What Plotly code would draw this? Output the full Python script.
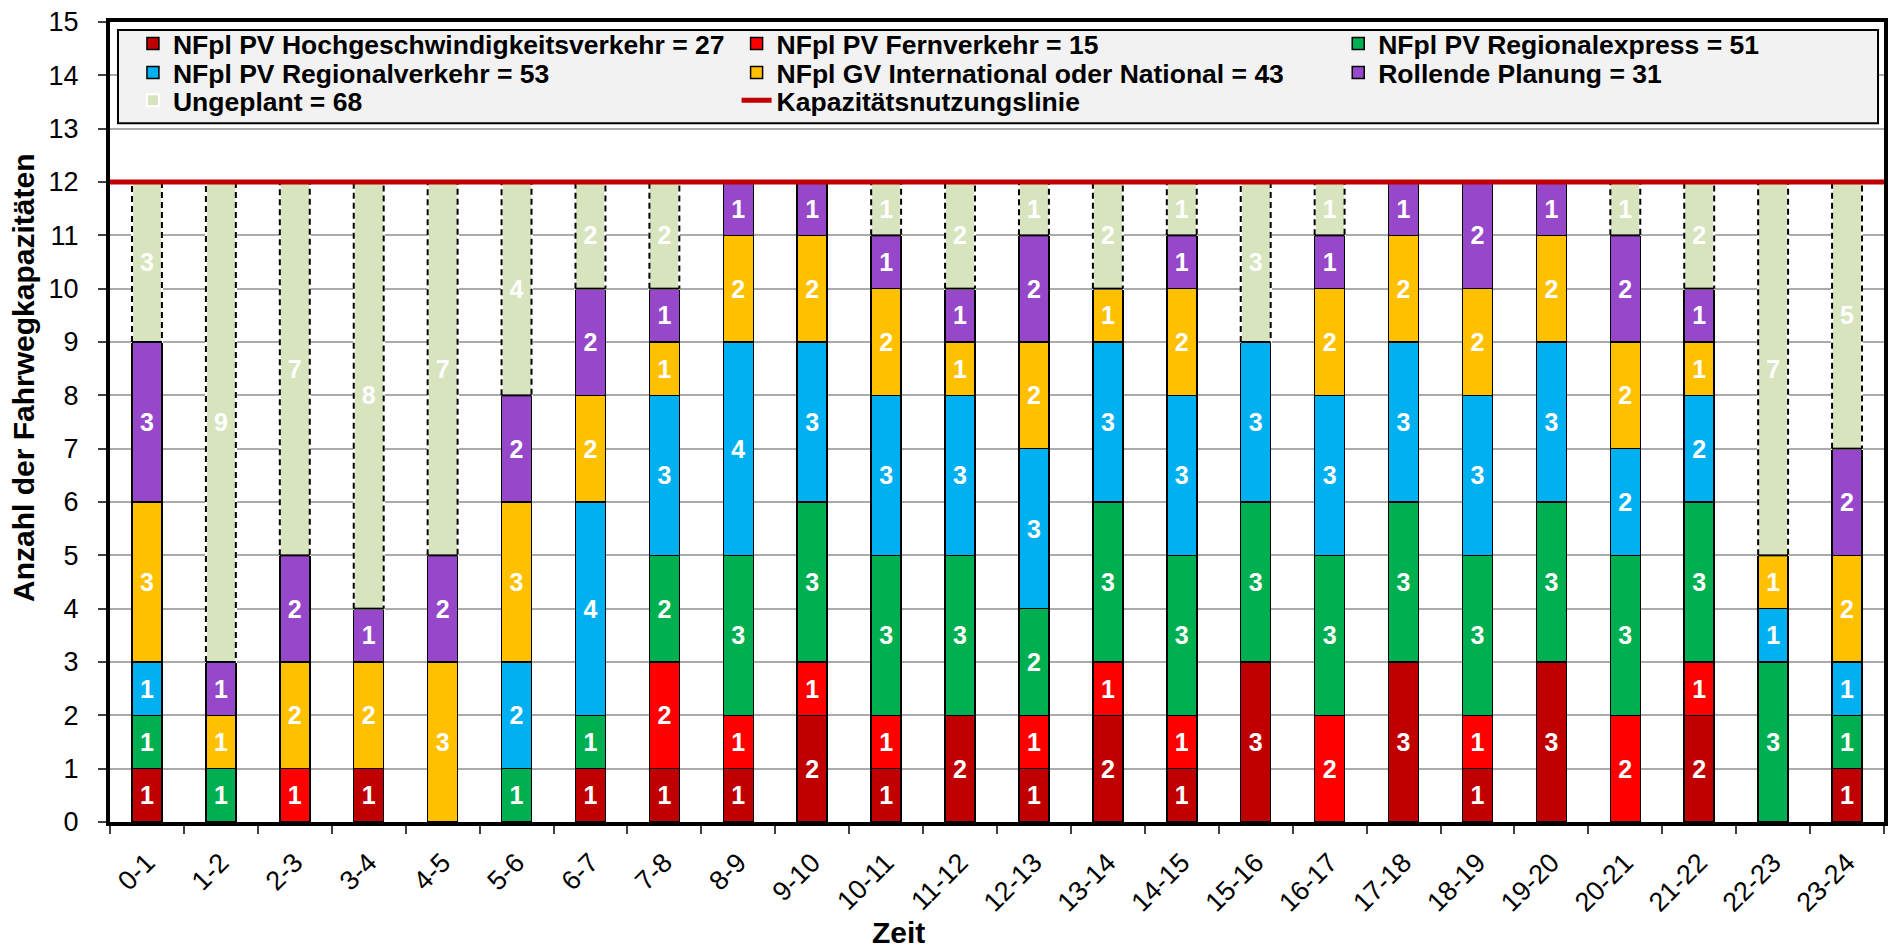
import plotly.graph_objects as go

# ---------------- data ----------------
categories = ["0-1", "1-2", "2-3", "3-4", "4-5", "5-6", "6-7", "7-8", "8-9", "9-10",
              "10-11", "11-12", "12-13", "13-14", "14-15", "15-16", "16-17", "17-18",
              "18-19", "19-20", "20-21", "21-22", "22-23", "23-24"]
hgv = [1, 0, 0, 1, 0, 0, 1, 1, 1, 2, 1, 2, 1, 2, 1, 3, 0, 3, 1, 3, 0, 2, 0, 1]
fv = [0, 0, 1, 0, 0, 0, 0, 2, 1, 1, 1, 0, 1, 1, 1, 0, 2, 0, 1, 0, 2, 1, 0, 0]
rex = [1, 1, 0, 0, 0, 1, 1, 2, 3, 3, 3, 3, 2, 3, 3, 3, 3, 3, 3, 3, 3, 3, 3, 1]
rv = [1, 0, 0, 0, 0, 2, 4, 3, 4, 3, 3, 3, 3, 3, 3, 3, 3, 3, 3, 3, 2, 2, 1, 1]
gv = [3, 1, 2, 2, 3, 3, 2, 1, 2, 2, 2, 1, 2, 1, 2, 0, 2, 2, 2, 2, 2, 1, 1, 2]
rp = [3, 1, 2, 1, 2, 2, 2, 1, 1, 1, 1, 1, 2, 0, 1, 0, 1, 1, 2, 1, 2, 1, 0, 2]
ung = [3, 9, 7, 8, 7, 4, 2, 2, 0, 0, 1, 2, 1, 2, 1, 3, 1, 0, 0, 0, 1, 2, 7, 5]
capacity = 12
y_ticks = list(range(0, 16))

series = [
    ("NFpl PV Hochgeschwindigkeitsverkehr", hgv, "#C00000"),
    ("NFpl PV Fernverkehr", fv, "#FF0000"),
    ("NFpl PV Regionalexpress", rex, "#00B050"),
    ("NFpl PV Regionalverkehr", rv, "#00B0F0"),
    ("NFpl GV International oder National", gv, "#FFC000"),
    ("Rollende Planung", rp, "#9747C9"),
]
ung_name = "Ungeplant"
ung_color = "#D7E4BD"
cap_name = "Kapazitätsnutzungslinie"

FONT = "Liberation Sans, Arial, sans-serif"
n = len(categories)
xs = list(range(n))
BAR_W = 0.405

# ---------------- geometry helpers ----------------
L, R, T, B = 110, 7, 17, 127
W, H = 1895, 949
pw, ph = W - L - R, H - T - B


def px_x(px):
    return (px - L) / pw


def px_y(py):
    return (H - B - py) / ph


# legend grid: 3 columns x 3 rows, one legend per entry (row-wise order)
leg_cols = [133, 738, 1341]
leg_rows = [39, 68, 96]
leg_ids = ["legend"] + [f"legend{k}" for k in range(2, 9)]

fig = go.Figure()

for k, (name, vals, color) in enumerate(series):
    fig.add_trace(go.Bar(
        x=xs, y=[v if v else None for v in vals], width=BAR_W,
        name=f"{name} = {sum(vals)}", legend=leg_ids[k],
        marker=dict(color=color, line=dict(color="black", width=1.5)),
        text=[str(v) if v else "" for v in vals],
        textposition="inside", insidetextanchor="middle", textangle=0,
        constraintext="none",
        textfont=dict(family=FONT, size=25, color="white", weight="bold"),
    ))

fig.add_trace(go.Bar(
    x=xs, y=[v if v else None for v in ung], width=BAR_W,
    name=f"{ung_name} = {sum(ung)}", legend=leg_ids[6],
    marker=dict(color=ung_color, line=dict(color="white", width=2)),
    text=[str(v) if v else "" for v in ung],
    textposition="inside", insidetextanchor="middle", textangle=0,
    constraintext="none",
    textfont=dict(family=FONT, size=25, color="white", weight="bold"),
))

# outline of the unplanned segments (derived from data):
# dashed sides/top, solid bottom edge where it meets the planned stack
ox, oy, bx, by = [], [], [], []
for i in range(n):
    if ung[i]:
        base = sum(s[1][i] for s in series)
        top = base + ung[i]
        x0, x1 = i - BAR_W / 2, i + BAR_W / 2
        ox += [x0, x0, x1, x1, None]
        oy += [base, top, top, base, None]
        if base > 0:
            bx += [x0, x1, None]
            by += [base, base, None]
fig.add_trace(go.Scatter(
    x=ox, y=oy, mode="lines", showlegend=False, hoverinfo="skip",
    line=dict(color="black", width=2, dash="6px,4px"),
))
fig.add_trace(go.Scatter(
    x=bx, y=by, mode="lines", showlegend=False, hoverinfo="skip",
    line=dict(color="black", width=2),
))

# capacity line
fig.add_trace(go.Scatter(
    x=[-0.5, n - 0.5], y=[capacity, capacity], mode="lines",
    name=cap_name, legend=leg_ids[7],
    line=dict(color="#C00000", width=5),
))

legends = {}
for k, lid in enumerate(leg_ids):
    r, c = divmod(k, 3)
    legends[lid] = dict(
        orientation="v", xanchor="left", yanchor="middle",
        x=px_x(leg_cols[c]), y=px_y(leg_rows[r]),
        bgcolor="rgba(0,0,0,0)", borderwidth=0, itemwidth=30,
        font=dict(family=FONT, size=26.5, color="black", weight="bold"),
    )

fig.update_layout(
    width=W, height=H,
    margin=dict(l=L, r=R, t=T, b=B),
    barmode="stack",
    plot_bgcolor="white", paper_bgcolor="white",
    font=dict(family=FONT, color="black"),
    showlegend=True,
    **legends,
    xaxis=dict(
        range=[-0.5, n - 0.5], tickmode="array", tickvals=xs, ticktext=categories,
        ticks="", tickangle=-45, tickfont=dict(family=FONT, size=27, color="black"),
        ticklabelstandoff=10,
        showgrid=False, zeroline=False,
        showline=True, linewidth=4, linecolor="black", mirror=True,
        minor=dict(tickmode="array", tickvals=[i - 0.5 for i in range(n + 1)],
                   ticks="outside", ticklen=8, tickwidth=1.5, tickcolor="#404040",
                   showgrid=False),
    ),
    yaxis=dict(
        range=[0, 15], tickmode="array", tickvals=y_ticks,
        ticks="outside", ticklen=8, tickwidth=1.5, tickcolor="#404040",
        tickfont=dict(family=FONT, size=27, color="black"),
        ticklabelstandoff=14,
        showgrid=True, gridcolor="#ABABAB", gridwidth=2, zeroline=False,
        showline=True, linewidth=4, linecolor="black", mirror=True,
    ),
    shapes=[dict(
        type="rect", xref="paper", yref="paper", layer="above",
        x0=px_x(118), x1=px_x(1882), y0=px_y(119), y1=px_y(25),
        fillcolor="#F2F2F2", line=dict(color="black", width=2),
    )],
    annotations=[
        dict(text="Zeit", xref="paper", yref="paper", x=px_x(900), y=px_y(933),
             xanchor="center", yanchor="middle", showarrow=False,
             font=dict(family=FONT, size=30, color="black", weight="bold")),
        dict(text="Anzahl der Fahrwegkapazitäten", xref="paper", yref="paper",
             x=px_x(24), y=px_y(375), textangle=-90,
             xanchor="center", yanchor="middle", showarrow=False,
             font=dict(family=FONT, size=30, color="black", weight="bold")),
    ],
)

fig.write_html("out.html", config={"displayModeBar": False},
               post_script="document.body.style.margin='0';document.body.style.overflow='hidden';")
